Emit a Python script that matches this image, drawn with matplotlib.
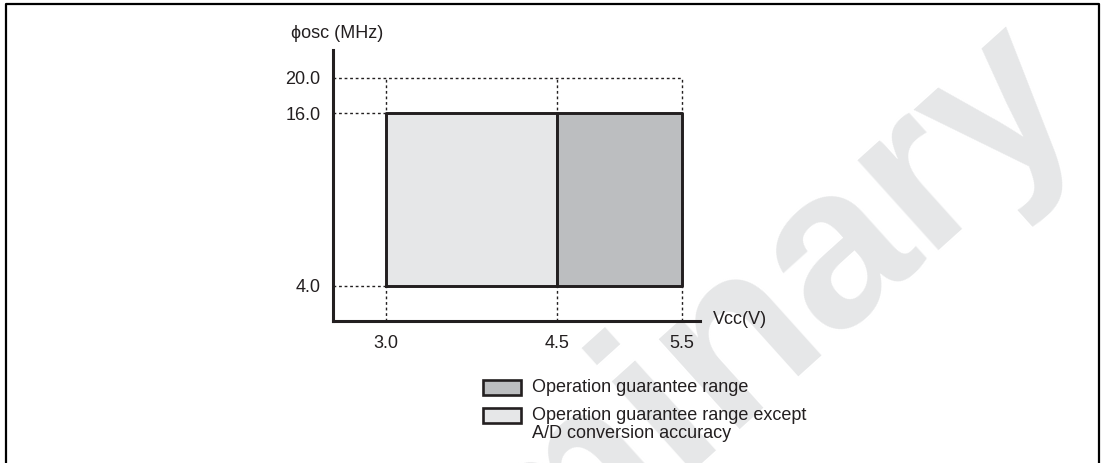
import matplotlib.pyplot as plt
import numpy as np
from matplotlib.patches import Rectangle
from matplotlib.lines import Line2D

plt.rcParams['font.family'] = ['Liberation Sans', 'DejaVu Sans']

# data
vcc_ticks = [3.0, 4.5, 5.5]
fosc_ticks = [4.0, 16.0, 20.0]
vcc_low, vcc_mid, vcc_high = 3.0, 4.5, 5.5
fosc_min, fosc_max, fosc_limit = 4.0, 16.0, 20.0
region_names = ["Operation guarantee range",
                "Operation guarantee range except\nA/D conversion accuracy"]
region_colors = ["#bcbec0", "#e6e7e8"]

W, H = 1103, 463
ink = "#231f20"
fs = 13

# the diagram is schematic: axis spacing is not linear, so use piecewise scales
def piecewise(src, dst):
    src = np.asarray(src, float)
    dst = np.asarray(dst, float)
    def f(v):
        v = np.asarray(v, float)
        out = np.interp(v, src, dst)
        lo = dst[0] + (v - src[0]) * (dst[1] - dst[0]) / (src[1] - src[0])
        hi = dst[-1] + (v - src[-1]) * (dst[-1] - dst[-2]) / (src[-1] - src[-2])
        out = np.where(v < src[0], lo, out)
        out = np.where(v > src[-1], hi, out)
        return out
    return f

xpix = [386, 557, 682]
ypix = [H - 286, H - 113, H - 78]
fx, ifx = piecewise(vcc_ticks, xpix), piecewise(xpix, vcc_ticks)
fy, ify = piecewise(fosc_ticks, ypix), piecewise(ypix, fosc_ticks)

fig = plt.figure(figsize=(W / 100, H / 100), dpi=100)
fig.patch.set_facecolor("white")

# watermark
fig.text(1085 / W, 1 - 105 / H, "Preliminary", rotation=42, rotation_mode="anchor",
         ha="right", va="baseline", fontsize=165, fontweight="bold",
         color="#e6e7e8", zorder=0)

# page frame (left, top, right)
fig.add_artist(Line2D([6 / W, 6 / W, 1099 / W, 1099 / W], [0, 1 - 4 / H, 1 - 4 / H, 0],
                      transform=fig.transFigure, color="black", lw=1.6))

ax_l, ax_r, ax_b, ax_t = 333, 700, H - 321, H - 50
ax = fig.add_axes([ax_l / W, ax_b / H, (ax_r - ax_l) / W, (ax_t - ax_b) / H])
ax.set_zorder(2)
ax.patch.set_alpha(0)
ax.set_xscale("function", functions=(fx, ifx))
ax.set_yscale("function", functions=(fy, ify))
ax.set_xlim(float(ifx(ax_l)), float(ifx(ax_r)))
ax.set_ylim(float(ify(ax_b)), float(ify(ax_t)))

for s in ["top", "right"]:
    ax.spines[s].set_visible(False)
for s in ["left", "bottom"]:
    ax.spines[s].set_linewidth(2.2)
    ax.spines[s].set_color(ink)

dot = dict(color=ink, lw=1.0, linestyle=(0, (2, 2)), zorder=1)
x0 = ax.get_xlim()[0]
y0 = ax.get_ylim()[0]
ax.plot([x0, vcc_high], [fosc_limit, fosc_limit], **dot)
ax.plot([x0, vcc_low], [fosc_max, fosc_max], **dot)
ax.plot([x0, vcc_low], [fosc_min, fosc_min], **dot)
for v in vcc_ticks:
    ax.plot([v, v], [y0, fosc_limit], **dot)

# regions
ax.fill_between([vcc_low, vcc_mid], fosc_min, fosc_max, facecolor=region_colors[1],
                edgecolor=ink, lw=1.9, zorder=2)
ax.fill_between([vcc_mid, vcc_high], fosc_min, fosc_max, facecolor=region_colors[0],
                edgecolor=ink, lw=1.9, zorder=2)
ax.plot([vcc_low, vcc_high, vcc_high, vcc_low, vcc_low],
        [fosc_min, fosc_min, fosc_max, fosc_max, fosc_min], color=ink, lw=1.9, zorder=3)
ax.plot([vcc_mid, vcc_mid], [fosc_min, fosc_max], color=ink, lw=1.9, zorder=3)

ax.set_xticks(vcc_ticks, [f"{v:.1f}" for v in vcc_ticks])
ax.set_yticks(fosc_ticks, [f"{v:.1f}" for v in fosc_ticks])
ax.xaxis.set_minor_locator(plt.NullLocator())
ax.yaxis.set_minor_locator(plt.NullLocator())
ax.tick_params(length=0, labelsize=fs, colors=ink)
ax.tick_params(axis="x", pad=10)
ax.tick_params(axis="y", pad=9)

fig.text(337 / W, 1 - 34 / H, "\u03d5osc (MHz)", ha="center", va="center", fontsize=fs,
         color=ink, zorder=3)
fig.text(713 / W, 1 - 319 / H, "Vcc(V)", ha="left", va="center", fontsize=fs,
         color=ink, zorder=3)

# legend
rows = [(380, 388), (408, 416)]
for (top, ty), name, c in zip(rows, region_names, region_colors):
    fig.add_artist(Rectangle((483 / W, 1 - (top + 15) / H), 38 / W, 15 / H,
                             transform=fig.transFigure, facecolor=c, edgecolor=ink,
                             lw=1.9, zorder=3))
    for i, ln in enumerate(name.split("\n")):
        fig.text(532 / W, 1 - (ty + 18 * i) / H, ln, ha="left", va="center",
                 fontsize=fs, color=ink, zorder=3)

fig.savefig("out.png", dpi=100)
